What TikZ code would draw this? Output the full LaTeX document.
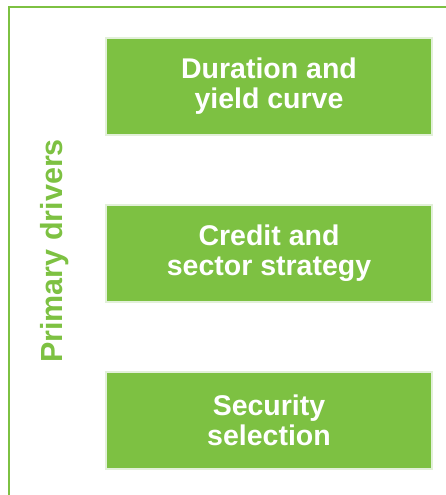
\documentclass[tikz,border=0pt]{standalone}
\usepackage{fontspec}
\setmainfont{Liberation Sans}
\definecolor{leaf}{RGB}{125,193,66}
\definecolor{leafpale}{RGB}{226,240,217}
\begin{document}
\begin{tikzpicture}[x=1pt,y=-1pt,
  driver/.style={fill=leaf,draw=leafpale,line width=2pt,
    minimum width=326pt,minimum height=97pt,inner sep=0pt,
    text=white,font=\fontsize{28.5}{30}\selectfont\bfseries,align=center},
  sidelabel/.style={text=leaf,font=\fontsize{30.5}{32}\selectfont\bfseries,
    rotate=90,anchor=base,inner sep=0pt}]
  \useasboundingbox (0,0) rectangle (446,495);
  % outer frame, running off the right and bottom edges
  \begin{scope}
    \clip (0,0) rectangle (446,495);
    \draw[leaf,line width=2pt] (9,7) rectangle (452,502);
  \end{scope}
  \node[driver] (dur) at (269,86.5) {Duration and\\yield curve};
  \node[driver] (cred) at (269,253.5) {Credit and\\sector strategy};
  \node[driver] (sec) at (269,420) {Security\\selection};
  \node[sidelabel] (lbl) at (62,251) {Primary drivers};
\end{tikzpicture}
\end{document}
